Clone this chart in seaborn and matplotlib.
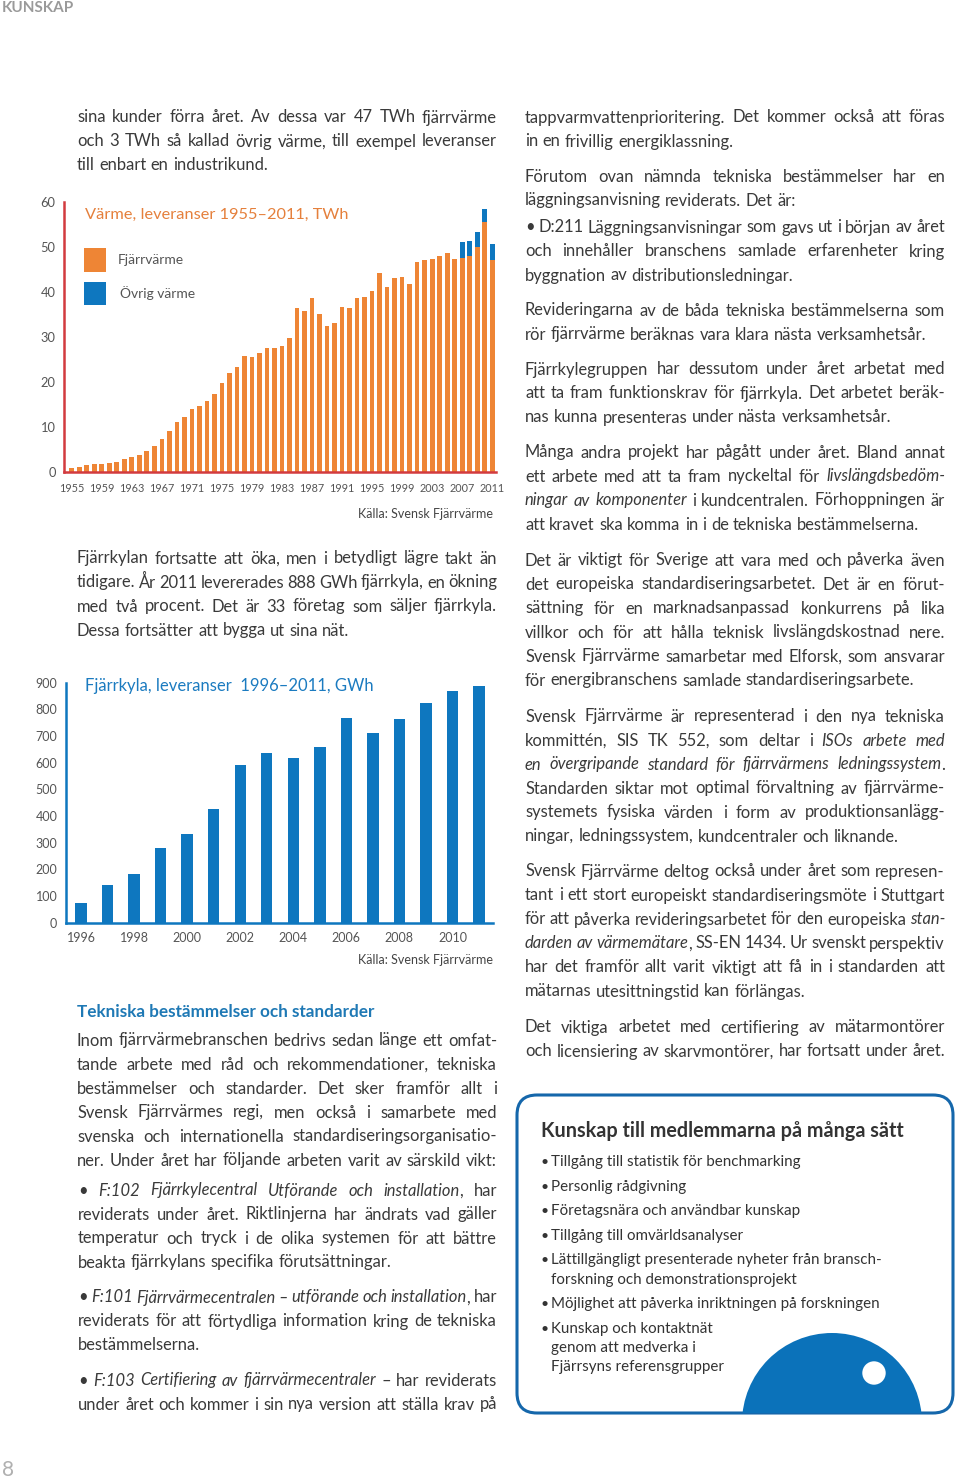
import matplotlib
matplotlib.use('Agg')
import matplotlib.pyplot as plt
import matplotlib.patches as mpatches
import seaborn as sns

sns.set_theme(style='white')
plt.rcParams['font.family'] = ['Lato', 'DejaVu Sans']

# --- data: värme, leveranser 1955-2011 (TWh)
years_heat = list(range(1955, 2012))
fjarrvarme = [0.8, 1.1, 1.4, 1.7, 1.7, 1.9, 2.2, 2.8, 3.3, 3.6,
              4.7, 5.8, 7.2, 9.0, 11.0, 12.1, 13.9, 14.5, 15.6, 17.3,
              19.7, 21.9, 23.3, 25.7, 25.4, 26.3, 27.4, 27.4, 27.9, 29.6,
              36.4, 35.6, 38.5, 35.0, 32.4, 33.1, 36.7, 36.4, 38.5, 38.9,
              40.2, 44.1, 41.0, 43.0, 43.2, 41.6, 46.5, 47.0, 47.3, 47.9,
              48.5, 47.3, 47.4, 47.9, 49.9, 55.4, 47.0]
ovrig_varme = [0, 0, 0, 0, 0, 0, 0, 0, 0, 0,
               0, 0, 0, 0, 0, 0, 0, 0, 0, 0,
               0, 0, 0, 0, 0, 0, 0, 0, 0, 0,
               0, 0, 0, 0, 0, 0, 0, 0, 0, 0,
               0, 0, 0, 0, 0, 0, 0, 0, 0, 0,
               0, 0, 3.7, 3.4, 3.4, 2.9, 3.5]
heat_yticks = [0, 10, 20, 30, 40, 50, 60]

# --- data: fjärrkyla, leveranser 1996-2011 (GWh)
years_cool = list(range(1996, 2012))
fjarrkyla = [75, 142, 181, 281, 334, 425, 592, 636, 616, 658, 769, 711, 763, 825, 868, 888]
cool_yticks = [0, 100, 200, 300, 400, 500, 600, 700, 800, 900]

ORANGE = '#EE8535'
BLUE = '#0E77BF'
RED = '#D23B3F'
TEXT = '#3A3A3A'
W, H = 960, 1482

fig = plt.figure(figsize=(W / 100, H / 100), dpi=100)
page = fig.add_axes([0, 0, 1, 1], zorder=0)
page.set_xlim(0, W)
page.set_ylim(H, 0)
page.axis('off')
rend = fig.canvas.get_renderer()

# ---------------- chart 1 ----------------
ax1 = fig.add_axes([64 / W, 1 - 471.7 / H, 432 / W, 270 / H], zorder=2)
ax1.patch.set_alpha(0)
total = [a + b for a, b in zip(fjarrvarme, ovrig_varme)]
sns.barplot(x=years_heat, y=total, color=BLUE, saturation=1, width=0.62, linewidth=0, ax=ax1)
sns.barplot(x=years_heat, y=fjarrvarme, color=ORANGE, saturation=1, width=0.62, linewidth=0, ax=ax1)
ax1.set_xlim(-1.03, 56.5)
ax1.set_ylim(0, 60)
ax1.set_yticks(heat_yticks)
ax1.set_yticklabels([str(v) for v in heat_yticks])
ax1.set_xticks(range(0, 57, 4))
ax1.set_xticklabels([str(y) for y in years_heat[::4]])
sns.despine(ax=ax1)
for s in ('left', 'bottom'):
    ax1.spines[s].set_color(RED)
    ax1.spines[s].set_linewidth(1.8)
ax1.tick_params(length=0, labelsize=9.3, labelcolor='#555555')
ax1.tick_params(axis='x', labelsize=7.8, pad=8)
ax1.tick_params(axis='y', pad=6)

page.text(85, 215, 'Värme, leveranser 1955–2011, TWh', color='#E5803C', fontsize=11.8, va='center')
page.add_patch(mpatches.Rectangle((84, 248), 22, 24, color=ORANGE, lw=0))
page.add_patch(mpatches.Rectangle((84, 282), 22, 23, color=BLUE, lw=0))
page.text(118, 260, 'Fjärrvärme', color='#555555', fontsize=10, va='center')
page.text(120, 293, 'Övrig värme', color='#555555', fontsize=10, va='center')
page.text(493, 514, 'Källa: Svensk Fjärrvärme', color='#444444', fontsize=9, va='center', ha='right')

# ---------------- chart 2 ----------------
ax2 = fig.add_axes([65.7 / W, 1 - 922.7 / H, 427.3 / W, 240 / H], zorder=2)
ax2.patch.set_alpha(0)
sns.barplot(x=years_cool, y=fjarrkyla, color=BLUE, saturation=1, width=0.43, linewidth=0, ax=ax2)
ax2.set_xlim(-0.58, 15.53)
ax2.set_ylim(0, 900)
ax2.set_yticks(cool_yticks)
ax2.set_yticklabels([str(v) for v in cool_yticks])
ax2.set_xticks(range(0, 16, 2))
ax2.set_xticklabels([str(y) for y in years_cool[::2]])
sns.despine(ax=ax2)
for s in ('left', 'bottom'):
    ax2.spines[s].set_color(BLUE)
    ax2.spines[s].set_linewidth(1.8)
ax2.tick_params(length=0, labelsize=9, labelcolor='#555555')
ax2.tick_params(axis='y', pad=6)
ax2.tick_params(axis='x', pad=7)

page.text(85, 686, 'Fjärrkyla, leveranser  1996–2011, GWh', color='#1B7BC0', fontsize=12, va='center')
page.text(493, 960, 'Källa: Svensk Fjärrvärme', color='#444444', fontsize=9, va='center', ha='right')


# ---------------- body text ----------------
def paragraph(x0, x1, yc, lines, njust=None, size=11.9, step=24, color=TEXT):
    if njust is None:
        njust = len(lines) - 1
    space = 0.26 * size * 100 / 72
    italic = False
    y = yc + 5.5
    for i, line in enumerate(lines):
        words = []
        for w in line.split(' '):
            segs = []
            for k, p in enumerate(w.split('_')):
                if k > 0:
                    italic = not italic
                if p:
                    t = page.text(0, y, p, fontsize=size, color=color, va='baseline',
                                  style='italic' if italic else 'normal')
                    segs.append((t, t.get_window_extent(rend).width))
            words.append(segs)
        widths = [sum(wd for _, wd in segs) for segs in words]
        gap = space
        if i < njust and len(words) > 1:
            gap = (x1 - x0 - sum(widths)) / (len(words) - 1)
        x = x0
        for segs in words:
            for t, wd in segs:
                t.set_x(x)
                x += wd
            x += gap
        y += step


LX0, LX1 = 77, 497
RX0, RX1 = 525, 945

paragraph(LX0, LX1, 117, ['sina kunder förra året. Av dessa var 47 TWh fjärrvärme',
                          'och 3 TWh så kallad övrig värme, till exempel leveranser',
                          'till enbart en industrikund.'])
paragraph(LX0, LX1, 558, ['Fjärrkylan fortsatte att öka, men i betydligt lägre takt än',
                          'tidigare. År 2011 levererades 888 GWh fjärrkyla, en ökning',
                          'med två procent. Det är 33 företag som säljer fjärrkyla.',
                          'Dessa fortsätter att bygga ut sina nät.'])
page.text(LX0, 1012, 'Tekniska bestämmelser och standarder', color='#1F79B5',
          fontsize=12.3, fontweight='bold', va='center')
paragraph(LX0, LX1, 1040, ['Inom fjärrvärmebranschen bedrivs sedan länge ett omfat-',
                           'tande arbete med råd och rekommendationer, tekniska',
                           'bestämmelser och standarder. Det sker framför allt i',
                           'Svensk Fjärrvärmes regi, men också i samarbete med',
                           'svenska och internationella standardiseringsorganisatio-',
                           'ner. Under året har följande arbeten varit av särskild vikt:'], njust=6)
paragraph(LX0 + 1, LX1, 1190, ['• _F:102 Fjärrkylecentral Utförande och installation_, har',
                               'reviderats under året. Riktlinjerna har ändrats vad gäller',
                               'temperatur och tryck i de olika systemen för att bättre',
                               'beakta fjärrkylans specifika förutsättningar.'])
paragraph(LX0 + 1, LX1, 1297, ['• _F:101 Fjärrvärmecentralen – utförande och installation_, har',
                               'reviderats för att förtydliga information kring de tekniska',
                               'bestämmelserna.'])
paragraph(LX0 + 1, LX1, 1380, ['• _F:103 Certifiering av fjärrvärmecentraler_ – har reviderats',
                               'under året och kommer i sin nya version att ställa krav på'], njust=2)

paragraph(RX0, RX1, 117, ['tappvarmvattenprioritering. Det kommer också att föras',
                          'in en frivillig energiklassning.'])
paragraph(RX0, RX1, 176, ['Förutom ovan nämnda tekniska bestämmelser har en',
                          'läggningsanvisning reviderats. Det är:'])
paragraph(RX0, RX1, 227, ['• D:211 Läggningsanvisningar som gavs ut i början av året',
                          'och innehåller branschens samlade erfarenheter kring',
                          'byggnation av distributionsledningar.'])
paragraph(RX0, RX1, 310, ['Revideringarna av de båda tekniska bestämmelserna som',
                          'rör fjärrvärme beräknas vara klara nästa verksamhetsår.'])
paragraph(RX0, RX1, 369, ['Fjärrkylegruppen har dessutom under året arbetat med',
                          'att ta fram funktionskrav för fjärrkyla. Det arbetet beräk-',
                          'nas kunna presenteras under nästa verksamhetsår.'])
paragraph(RX0, RX1, 452, ['Många andra projekt har pågått under året. Bland annat',
                          'ett arbete med att ta fram nyckeltal för _livslängdsbedöm-',
                          'ningar av komponenter_ i kundcentralen. Förhoppningen är',
                          'att kravet ska komma in i de tekniska bestämmelserna.'])
paragraph(RX0, RX1, 560, ['Det är viktigt för Sverige att vara med och påverka även',
                          'det europeiska standardiseringsarbetet. Det är en förut-',
                          'sättning för en marknadsanpassad konkurrens på lika',
                          'villkor och för att hålla teknisk livslängdskostnad nere.',
                          'Svensk Fjärrvärme samarbetar med Elforsk, som ansvarar',
                          'för energibranschens samlade standardiseringsarbete.'])
paragraph(RX0, RX1, 716, ['Svensk Fjärrvärme är representerad i den nya tekniska',
                          'kommittén, SIS TK 552, som deltar i _ISOs arbete med',
                          'en övergripande standard för fjärrvärmens ledningssystem_.',
                          'Standarden siktar mot optimal förvaltning av fjärrvärme-',
                          'systemets fysiska värden i form av produktionsanlägg-',
                          'ningar, ledningssystem, kundcentraler och liknande.'])
paragraph(RX0, RX1, 871, ['Svensk Fjärrvärme deltog också under året som represen-',
                          'tant i ett stort europeiskt standardiseringsmöte i Stuttgart',
                          'för att påverka revideringsarbetet för den europeiska _stan-',
                          'darden av värmemätare_, SS-EN 1434. Ur svenskt perspektiv',
                          'har det framför allt varit viktigt att få in i standarden att',
                          'mätarnas utesittningstid kan förlängas.'])
paragraph(RX0, RX1, 1027, ['Det viktiga arbetet med certifiering av mätarmontörer',
                           'och licensiering av skarvmontörer, har fortsatt under året.'], njust=2)

# ---------------- fact box ----------------
box = mpatches.FancyBboxPatch((517, 1095), 436, 318, boxstyle='round,pad=0,rounding_size=20',
                              fc='white', ec='#1567AB', lw=2.2, zorder=1)
page.add_patch(box)
dome = mpatches.Circle((832, 1423), 90, color='#0B72BA', lw=0, zorder=2)
page.add_patch(dome)
dome.set_clip_path(box)
page.add_patch(mpatches.Circle((874, 1373), 11.7, color='white', lw=0, zorder=3))
page.text(541, 1131, 'Kunskap till medlemmarna på många sätt', color='#333333',
          fontsize=14.2, fontweight='bold', va='center')

box_items = [['Tillgång till statistik för benchmarking'],
             ['Personlig rådgivning'],
             ['Företagsnära och användbar kunskap'],
             ['Tillgång till omvärldsanalyser'],
             ['Lättillgängligt presenterade nyheter från bransch-', 'forskning och demonstrationsprojekt'],
             ['Möjlighet att påverka inriktningen på forskningen'],
             ['Kunskap och kontaktnät', 'genom att medverka i', 'Fjärrsyns referensgrupper']]
yb = 1162
for item in box_items:
    page.text(541, yb, '•', color='#333333', fontsize=10, va='center', zorder=4)
    for j, ln in enumerate(item):
        page.text(551, yb + j * 19.3, ln, color='#333333', fontsize=10.9, va='center', zorder=4)
    yb += 24.6 + (len(item) - 1) * 19.3

# ---------------- page furniture ----------------
page.text(2, 8, 'KUNSKAP', color='#9A9A9A', fontsize=11, fontweight='bold', va='center')
page.text(2, 1470, '8', color='#B0B0B0', fontsize=15, va='center')

fig.savefig('out.png', dpi=100)
